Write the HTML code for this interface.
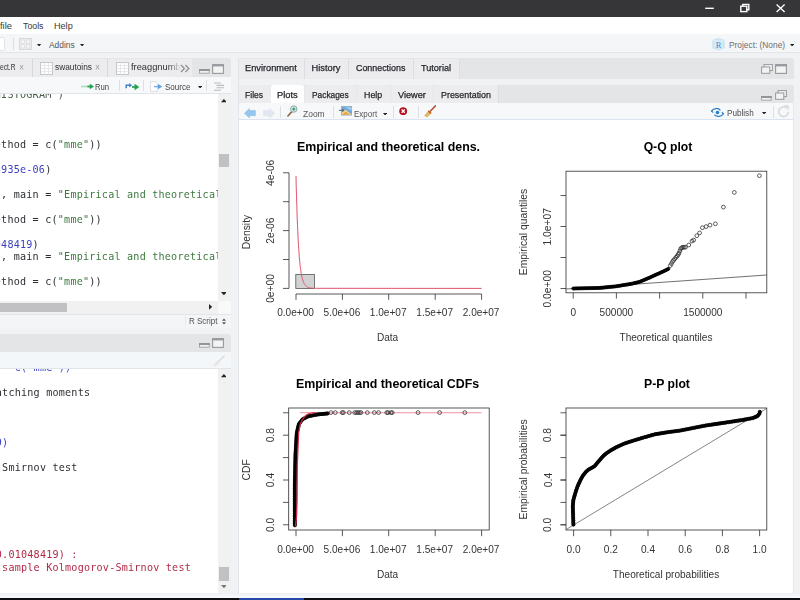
<!DOCTYPE html>
<html lang="en"><head><meta charset="utf-8"><title>RStudio</title>
<style>
html,body{margin:0;padding:0;}
body{width:800px;height:600px;overflow:hidden;position:relative;background:#f1f2f4;font-family:"Liberation Sans",sans-serif;}
#root{position:absolute;left:0;top:0;width:800px;height:600px;overflow:hidden;filter:blur(0.5px);}
#root div,#root span.t,#root svg{position:absolute;}
span.t{white-space:pre;transform-origin:0 50%;}
.ui{font-family:"Liberation Sans",sans-serif;}
.b{font-weight:bold;}
.mono{font-family:"DejaVu Sans Mono","Liberation Mono",monospace;}
svg text{font-family:"Liberation Sans",sans-serif;}
</style></head><body><div id="root">
<div style="left:0px;top:0px;width:800px;height:17px;background:#363537;"></div>
<div style="left:0px;top:17px;width:800px;height:17px;background:#ffffff;"></div>
<div style="left:0px;top:34px;width:800px;height:17.5px;background:#f5f6f8;"></div>
<div style="left:0px;top:51.5px;width:800px;height:1px;background:#e3e5e8;"></div>
<svg style="left:700px;top:0" width="100" height="17" viewBox="0 0 100 17">
<g stroke="#fff" stroke-width="1.4" fill="none">
<path d="M5.2 8.3H13.8"/>
<rect x="40.8" y="6.2" width="6" height="5.4"/><path d="M42.8 6.2V4.4h6v5.4H46.8"/>
<path d="M76.6 4.4l8 7.6M84.6 4.4l-8 7.6"/>
</g></svg>
<span class="t ui" style="left:-0.5px;top:19.84px;font-size:9.6px;line-height:11.52px;color:#3a3a3a;transform:scaleX(0.9778);">file</span>
<span class="t ui" style="left:22.5px;top:19.84px;font-size:9.6px;line-height:11.52px;color:#3a3a3a;transform:scaleX(0.9147);">Tools</span>
<span class="t ui" style="left:53.8px;top:19.84px;font-size:9.6px;line-height:11.52px;color:#3a3a3a;transform:scaleX(0.9471);">Help</span>
<div style="left:0px;top:36.5px;width:5px;height:14px;background:#ffffff;border:1px solid #e3e4e6;border-left:none;border-radius:0 2px 2px 0;box-sizing:border-box;"></div>
<div style="left:12.5px;top:38px;width:1px;height:12px;background:#dcdde0;"></div>
<svg style="left:19px;top:37.5px" width="13" height="12" viewBox="0 0 13 12">
<rect x="0.5" y="0.5" width="12" height="11" fill="#eeeeef" stroke="#d9d9db"/>
<g fill="#f8f8f9" stroke="#d4d4d7" stroke-width=".6"><rect x="2" y="2" width="3.6" height="3.2"/><rect x="7.3" y="2" width="3.6" height="3.2"/><rect x="2" y="6.8" width="3.6" height="3.2"/><rect x="7.3" y="6.8" width="3.6" height="3.2"/></g></svg>
<svg style="left:37.4px;top:43.6px" width="4.2" height="2.6" viewBox="0 0 4.2 2.6"><path d="M0 0H4.2L2.1 2.6Z" fill="#222"/></svg>
<span class="t ui" style="left:48.8px;top:39.36px;font-size:9.4px;line-height:11.28px;color:#555;transform:scaleX(0.8976);">Addins</span>
<svg style="left:80.4px;top:43.6px" width="4.2" height="2.6" viewBox="0 0 4.2 2.6"><path d="M0 0H4.2L2.1 2.6Z" fill="#222"/></svg>
<svg style="left:712px;top:38px" width="13" height="13" viewBox="0 0 13 13">
<path d="M.8 2.2L6.5 0.6L12.2 2.2V10L6.5 12L.8 10Z" fill="#d3e9f6" stroke="#b9d9ee" stroke-width=".6"/>
<path d="M.8 2.2L6.5 3.6L12.2 2.2M6.5 3.6V12" stroke="#e9f4fb" stroke-width=".6" fill="none"/>
<text x="6.6" y="9.6" font-size="8.4" text-anchor="middle" fill="#4a8fcb" style="font-family:'Liberation Serif',serif">R</text></svg>
<span class="t ui" style="left:728.8px;top:39.36px;font-size:9.4px;line-height:11.28px;color:#6e6e6e;transform:scaleX(0.8891);">Project: (None)</span>
<svg style="left:789.6999999999999px;top:43.6px" width="4.2" height="2.6" viewBox="0 0 4.2 2.6"><path d="M0 0H4.2L2.1 2.6Z" fill="#222"/></svg>
<div style="left:0px;top:58px;width:231px;height:19px;background:#e4e5e7;border-radius:0 3px 0 0;"></div>
<div style="left:0px;top:59px;width:31.5px;height:18px;background:#ececee;"></div>
<div style="left:31.5px;top:59px;width:1px;height:18px;background:#d6d8db;"></div>
<div style="left:32.5px;top:59px;width:74.5px;height:18px;background:#ececee;"></div>
<div style="left:107px;top:59px;width:1px;height:18px;background:#d6d8db;"></div>
<div style="left:108px;top:59px;width:84px;height:18px;background:#ececee;"></div>
<span class="t ui" style="left:-0.5px;top:62.48px;font-size:9.2px;line-height:11.04px;color:#303034;transform:scaleX(0.7218);">ect.R</span>
<span class="t ui" style="left:18.5px;top:62.20px;font-size:10px;line-height:12.0px;color:#9a9a9e;transform:scaleX(0.8562);">×</span>
<svg style="left:39.5px;top:61.5px" width="13" height="13" viewBox="0 0 13 13">
<rect x=".5" y=".5" width="12" height="12" fill="#fdfdfd" stroke="#c4c6ca"/>
<path d="M.5 3.5H12.5M.5 6.5H12.5M.5 9.5H12.5M4.5 .5V12.5M8.5 .5V12.5" stroke="#dfe0e3" stroke-width=".7"/></svg>
<span class="t ui" style="left:55px;top:62.48px;font-size:9.2px;line-height:11.04px;color:#303034;transform:scaleX(0.9044);">swautoins</span>
<span class="t ui" style="left:95px;top:62.20px;font-size:10px;line-height:12.0px;color:#9a9a9e;transform:scaleX(0.8562);">×</span>
<svg style="left:116px;top:61.5px" width="13" height="13" viewBox="0 0 13 13">
<rect x=".5" y=".5" width="12" height="12" fill="#fdfdfd" stroke="#c4c6ca"/>
<path d="M.5 3.5H12.5M.5 6.5H12.5M.5 9.5H12.5M4.5 .5V12.5M8.5 .5V12.5" stroke="#dfe0e3" stroke-width=".7"/></svg>
<span class="t ui" style="left:131.4px;top:62.48px;font-size:9.2px;line-height:11.04px;color:#303034;transform:scaleX(1.0102);">freaggnumb</span>
<div style="left:168px;top:59px;width:24px;height:18px;background:linear-gradient(90deg,rgba(236,236,238,0),rgba(236,236,238,1) 55%);"></div>
<svg style="left:180px;top:63.5px" width="10" height="9" viewBox="0 0 10 9"><path d="M1 1l3.4 3.5L1 8M5.4 1l3.4 3.5L5.4 8" fill="none" stroke="#8e9096" stroke-width="1.3"/></svg>
<svg style="left:198.5px;top:68.5px" width="11" height="5" viewBox="0 0 11 5"><rect x=".5" y=".8" width="9.8" height="3.4" fill="#f0f0f1" stroke="#a2a4a8" stroke-width=".9"/><path d="M0 1H10.8" stroke="#8d8f94" stroke-width="1.8"/></svg>
<svg style="left:212px;top:63.5px" width="12" height="10" viewBox="0 0 12 10"><rect x=".6" y=".6" width="10.8" height="8.8" fill="#f3f3f4" stroke="#97999e" stroke-width="1.1"/><path d="M.6 1.6H11.4" stroke="#97999e" stroke-width="1.6"/></svg>
<div style="left:0px;top:77px;width:231px;height:16px;background:#f6f8fa;"></div>
<div style="left:0px;top:93px;width:231px;height:1px;background:#e1e4e8;"></div>
<svg style="left:80.5px;top:82px" width="14" height="9" viewBox="0 0 14 9"><path d="M0 4.5H8" stroke="#a9dbb9" stroke-width="1.5"/><path d="M6.4 4.5H9.4" stroke="#2fa55a" stroke-width="1.9"/><path d="M8.8 1.7L13 4.5L8.8 7.3Z" fill="#22a04f"/></svg>
<span class="t ui" style="left:95.4px;top:80.96px;font-size:9.4px;line-height:11.28px;color:#444;transform:scaleX(0.8234);">Run</span>
<div style="left:118.5px;top:80px;width:1px;height:11px;background:#dcdfe3;"></div>
<svg style="left:124.5px;top:81.5px" width="15" height="10" viewBox="0 0 15 10"><path d="M1.2 6.2V3.2H5" stroke="#3f7fd0" stroke-width="1.5" fill="none"/><path d="M4.2 .9L7 3.2L4.2 5.5Z" fill="#3f7fd0"/><path d="M7 5H10" stroke="#2fa55a" stroke-width="1.8"/><path d="M9.5 1.8L14.3 5L9.5 8.2Z" fill="#22a04f"/></svg>
<div style="left:142.5px;top:80px;width:1px;height:11px;background:#dcdfe3;"></div>
<svg style="left:150px;top:80.5px" width="13" height="11" viewBox="0 0 13 11"><path d="M.6 .6H5.5L7.4 2.6V10.4H.6Z" fill="#fff" stroke="#d3d6db" stroke-width=".8"/><path d="M4 5.6H8.6" stroke="#7fb2e6" stroke-width="1.5"/><path d="M8 3L12.2 5.6L8 8.2Z" fill="#5f9fe0"/></svg>
<span class="t ui" style="left:165px;top:80.96px;font-size:9.4px;line-height:11.28px;color:#444;transform:scaleX(0.8561);">Source</span>
<svg style="left:198.3px;top:85.5px" width="4.2" height="2.6" viewBox="0 0 4.2 2.6"><path d="M0 0H4.2L2.1 2.6Z" fill="#222"/></svg>
<div style="left:206.4px;top:80px;width:1px;height:11px;background:#dcdfe3;"></div>
<svg style="left:213.5px;top:81.5px" width="10" height="9" viewBox="0 0 10 9"><path d="M0 1H7M2.5 3.4H10M2.5 5.8H10M0 8.2H7" stroke="#b7bac0" stroke-width="1.1"/></svg>
<div style="left:0px;top:94px;width:217.5px;height:207px;background:#ffffff;"></div>
<div style="left:0;top:94px;width:217.5px;height:207px;overflow:hidden;">
<div style="left:0;top:0px;width:217.5px;height:8px;overflow:hidden;"><span class="t mono" style="left:-5.2px;top:-5.4px;font-size:10.1px;letter-spacing:.22px;line-height:12.4px;color:#4a5f4c">HISTOGRAM"<span style="color:#4a4d52">)</span></span></div>
<span class="t mono" style="left:-5.199999999999999px;top:44.74px;font-size:10.1px;line-height:12.12px;color:#2c2f34;letter-spacing:0.219px;">e</span>
<span class="t mono" style="left:1.1000000000000005px;top:44.74px;font-size:10.1px;line-height:12.12px;color:#2c2f34;letter-spacing:0.219px;">thod = c(</span>
<span class="t mono" style="left:57.8px;top:44.74px;font-size:10.1px;line-height:12.12px;color:#3d7a40;letter-spacing:0.219px;">"mme"</span>
<span class="t mono" style="left:89.3px;top:44.74px;font-size:10.1px;line-height:12.12px;color:#2c2f34;letter-spacing:0.219px;">))</span>
<span class="t mono" style="left:-5.199999999999999px;top:69.64px;font-size:10.1px;line-height:12.12px;color:#3a3fc2;letter-spacing:0.219px;">6</span>
<span class="t mono" style="left:1.1000000000000005px;top:69.64px;font-size:10.1px;line-height:12.12px;color:#3a3fc2;letter-spacing:0.219px;">935e-06</span>
<span class="t mono" style="left:45.2px;top:69.64px;font-size:10.1px;line-height:12.12px;color:#2c2f34;letter-spacing:0.219px;">)</span>
<span class="t mono" style="left:1.1px;top:94.64px;font-size:10.1px;line-height:12.12px;color:#2c2f34;letter-spacing:0.219px;">, main = </span>
<span class="t mono" style="left:57.8px;top:94.64px;font-size:10.1px;line-height:12.12px;color:#3d7a40;letter-spacing:0.219px;">"Empirical and theoretical</span>
<span class="t mono" style="left:-5.199999999999999px;top:119.54px;font-size:10.1px;line-height:12.12px;color:#2c2f34;letter-spacing:0.219px;">e</span>
<span class="t mono" style="left:1.1000000000000005px;top:119.54px;font-size:10.1px;line-height:12.12px;color:#2c2f34;letter-spacing:0.219px;">thod = c(</span>
<span class="t mono" style="left:57.8px;top:119.54px;font-size:10.1px;line-height:12.12px;color:#3d7a40;letter-spacing:0.219px;">"mme"</span>
<span class="t mono" style="left:89.3px;top:119.54px;font-size:10.1px;line-height:12.12px;color:#2c2f34;letter-spacing:0.219px;">))</span>
<span class="t mono" style="left:-5.199999999999999px;top:144.54px;font-size:10.1px;line-height:12.12px;color:#3a3fc2;letter-spacing:0.219px;">0</span>
<span class="t mono" style="left:1.1000000000000005px;top:144.54px;font-size:10.1px;line-height:12.12px;color:#3a3fc2;letter-spacing:0.219px;">48419</span>
<span class="t mono" style="left:32.6px;top:144.54px;font-size:10.1px;line-height:12.12px;color:#2c2f34;letter-spacing:0.219px;">)</span>
<span class="t mono" style="left:1.1px;top:156.94px;font-size:10.1px;line-height:12.12px;color:#2c2f34;letter-spacing:0.219px;">, main = </span>
<span class="t mono" style="left:57.8px;top:156.94px;font-size:10.1px;line-height:12.12px;color:#3d7a40;letter-spacing:0.219px;">"Empirical and theoretical</span>
<span class="t mono" style="left:-5.199999999999999px;top:181.94px;font-size:10.1px;line-height:12.12px;color:#2c2f34;letter-spacing:0.219px;">e</span>
<span class="t mono" style="left:1.1000000000000005px;top:181.94px;font-size:10.1px;line-height:12.12px;color:#2c2f34;letter-spacing:0.219px;">thod = c(</span>
<span class="t mono" style="left:57.8px;top:181.94px;font-size:10.1px;line-height:12.12px;color:#3d7a40;letter-spacing:0.219px;">"mme"</span>
<span class="t mono" style="left:89.3px;top:181.94px;font-size:10.1px;line-height:12.12px;color:#2c2f34;letter-spacing:0.219px;">))</span>
</div>
<div style="left:217.5px;top:94px;width:13.5px;height:207px;background:#f1f1f2;"></div>
<svg style="left:220.7px;top:99.405px" width="5.8" height="3.19" viewBox="0 0 5.8 3.19"><path d="M0 3.19L2.9 0L5.8 3.19Z" fill="#222"/></svg>
<svg style="left:220.7px;top:292.405px" width="5.8" height="3.19" viewBox="0 0 5.8 3.19"><path d="M0 0H5.8L2.9 3.19Z" fill="#222"/></svg>
<div style="left:218.8px;top:154px;width:10px;height:12.8px;background:#c1c1c3;"></div>
<div style="left:0px;top:301px;width:231px;height:12.5px;background:#f1f1f2;"></div>
<div style="left:0px;top:302.6px;width:66.8px;height:9.4px;background:#c1c1c3;"></div>
<svg style="left:209.205px;top:304.1px" width="3.19" height="5.8" viewBox="0 0 3.19 5.8"><path d="M0 0L3.19 2.9L0 5.8Z" fill="#222"/></svg>
<div style="left:217.5px;top:301px;width:13.5px;height:12.5px;background:#f9f9fa;"></div>
<div style="left:0px;top:313.5px;width:231px;height:14px;background:#f4f5f7;"></div>
<div style="left:0px;top:313.5px;width:231px;height:1px;background:#e3e5e8;"></div>
<div style="left:184.5px;top:316px;width:1px;height:10px;background:#e6e8eb;"></div>
<span class="t ui" style="left:188.5px;top:315.64px;font-size:8.6px;line-height:10.32px;color:#505050;transform:scaleX(0.9319);">R Script</span>
<svg style="left:221.6px;top:317.6px" width="4" height="7" viewBox="0 0 5 8"><path d="M0 3L2.5 .4L5 3ZM0 5L2.5 7.6L5 5Z" fill="#555"/></svg>
<div style="left:0px;top:333.5px;width:231px;height:18.5px;background:#e4e5e7;border-radius:0 3px 0 0;"></div>
<svg style="left:198.5px;top:343px" width="11" height="5" viewBox="0 0 11 5"><rect x=".5" y=".8" width="9.8" height="3.4" fill="#f0f0f1" stroke="#a2a4a8" stroke-width=".9"/><path d="M0 1H10.8" stroke="#8d8f94" stroke-width="1.8"/></svg>
<svg style="left:212px;top:338.2px" width="12" height="10" viewBox="0 0 12 10"><rect x=".6" y=".6" width="10.8" height="8.8" fill="#f3f3f4" stroke="#97999e" stroke-width="1.1"/><path d="M.6 1.6H11.4" stroke="#97999e" stroke-width="1.6"/></svg>
<div style="left:0px;top:352px;width:231px;height:16px;background:#f4f7fa;"></div>
<div style="left:0px;top:368px;width:231px;height:1px;background:#e1e4e8;"></div>
<svg style="left:212px;top:354.5px" width="14" height="12" viewBox="0 0 14 12" opacity=".45"><path d="M12.5 .8L6.5 6.5" stroke="#c9b9a4" stroke-width="1.6"/><path d="M1 10.8L5.4 5.2L8.2 7.8L3.6 11.5Z" fill="#d8d3c7"/></svg>
<div style="left:0px;top:369px;width:217.5px;height:224px;background:#ffffff;"></div>
<div style="left:0;top:369px;width:217.5px;height:5px;overflow:hidden;"><span class="t mono" style="left:2.1px;top:-7.2px;font-size:10.1px;letter-spacing:.22px;line-height:12.4px;color:#3a3fc2">= c("mme"))</span></div>
<span class="t mono" style="left:-4.2px;top:386.84px;font-size:10.1px;line-height:12.12px;color:#2c2f34;letter-spacing:0.219px;">atching moments</span>
<span class="t mono" style="left:-4.2px;top:436.84px;font-size:10.1px;line-height:12.12px;color:#3a3fc2;letter-spacing:0.219px;">9</span>
<span class="t mono" style="left:2.0999999999999996px;top:436.84px;font-size:10.1px;line-height:12.12px;color:#3a3fc2;letter-spacing:0.219px;">)</span>
<span class="t mono" style="left:-4.2px;top:461.94px;font-size:10.1px;line-height:12.12px;color:#2c2f34;letter-spacing:0.219px;">-Smirnov test</span>
<span class="t mono" style="left:-4.2px;top:548.94px;font-size:10.1px;line-height:12.12px;color:#b02a48;letter-spacing:0.219px;">0.01048419) :</span>
<span class="t mono" style="left:-4.2px;top:561.74px;font-size:10.1px;line-height:12.12px;color:#b02a48;letter-spacing:0.219px;">-sample Kolmogorov-Smirnov test</span>
<div style="left:217.5px;top:369px;width:13.5px;height:224px;background:#f1f1f2;"></div>
<svg style="left:220.7px;top:374.405px" width="5.8" height="3.19" viewBox="0 0 5.8 3.19"><path d="M0 3.19L2.9 0L5.8 3.19Z" fill="#222"/></svg>
<svg style="left:220.7px;top:584.805px" width="5.8" height="3.19" viewBox="0 0 5.8 3.19"><path d="M0 0H5.8L2.9 3.19Z" fill="#777"/></svg>
<div style="left:218.8px;top:567px;width:10px;height:13.6px;background:#c1c1c3;"></div>
<div style="left:237.5px;top:58px;width:556px;height:21px;background:#e4e5e7;border-radius:3px 3px 0 0;"></div>
<div style="left:237.5px;top:59px;width:66.0px;height:20px;background:#ececee;"></div>
<div style="left:304.5px;top:59px;width:43.5px;height:20px;background:#ececee;"></div>
<div style="left:349px;top:59px;width:63.80000000000001px;height:20px;background:#ececee;"></div>
<div style="left:413.8px;top:59px;width:45.19999999999999px;height:20px;background:#ececee;"></div>
<div style="left:303.5px;top:59px;width:1px;height:20px;background:#dcdde0;"></div>
<div style="left:348px;top:59px;width:1px;height:20px;background:#dcdde0;"></div>
<div style="left:412.8px;top:59px;width:1px;height:20px;background:#dcdde0;"></div>
<div style="left:459px;top:59px;width:1px;height:20px;background:#dcdde0;"></div>
<span class="t ui" style="left:244.5px;top:62.52px;font-size:9.3px;line-height:11.16px;color:#1f2126;transform:scaleX(0.9921);-webkit-text-stroke:.25px #1f2126;">Environment</span>
<span class="t ui" style="left:311.5px;top:62.52px;font-size:9.3px;line-height:11.16px;color:#1f2126;-webkit-text-stroke:.25px #1f2126;">History</span>
<span class="t ui" style="left:356px;top:62.52px;font-size:9.3px;line-height:11.16px;color:#1f2126;transform:scaleX(0.9555);-webkit-text-stroke:.25px #1f2126;">Connections</span>
<span class="t ui" style="left:421px;top:62.52px;font-size:9.3px;line-height:11.16px;color:#1f2126;transform:scaleX(0.9783);-webkit-text-stroke:.25px #1f2126;">Tutorial</span>
<svg style="left:760.5px;top:63.5px" width="12" height="10" viewBox="0 0 12 10"><rect x="3" y=".6" width="8.4" height="6" fill="#f3f3f4" stroke="#97999e" stroke-width="1"/><rect x=".6" y="3" width="8.2" height="6.3" fill="#f3f3f4" stroke="#97999e" stroke-width="1"/></svg>
<svg style="left:774.5px;top:63.5px" width="12" height="10" viewBox="0 0 12 10"><rect x=".6" y=".6" width="10.8" height="8.8" fill="#f3f3f4" stroke="#97999e" stroke-width="1.1"/><path d="M.6 1.6H11.4" stroke="#97999e" stroke-width="1.6"/></svg>
<div style="left:237.5px;top:84.5px;width:556px;height:18.5px;background:#e4e5e7;border-radius:3px 3px 0 0;"></div>
<div style="left:237.5px;top:85px;width:33.5px;height:18px;background:#ececee;"></div>
<div style="left:271px;top:85px;width:33px;height:18px;background:#ffffff;border-radius:2px 2px 0 0;"></div>
<div style="left:304.5px;top:85px;width:51.5px;height:18px;background:#ececee;"></div>
<div style="left:357px;top:85px;width:32.5px;height:18px;background:#ececee;"></div>
<div style="left:390.5px;top:85px;width:42.5px;height:18px;background:#ececee;"></div>
<div style="left:434px;top:85px;width:64px;height:18px;background:#ececee;"></div>
<div style="left:304px;top:86px;width:1px;height:16px;background:#e6e7e9;"></div>
<div style="left:356px;top:86px;width:1px;height:16px;background:#e6e7e9;"></div>
<div style="left:389.5px;top:86px;width:1px;height:16px;background:#e6e7e9;"></div>
<div style="left:433px;top:86px;width:1px;height:16px;background:#e6e7e9;"></div>
<div style="left:498px;top:85px;width:1px;height:18px;background:#dcdde0;"></div>
<span class="t ui" style="left:244.5px;top:89.82px;font-size:9.3px;line-height:11.16px;color:#1f2126;transform:scaleX(0.9218);-webkit-text-stroke:.25px #1f2126;">Files</span>
<span class="t ui" style="left:277px;top:89.82px;font-size:9.3px;line-height:11.16px;color:#1f2126;transform:scaleX(1.0060);-webkit-text-stroke:.25px #1f2126;">Plots</span>
<span class="t ui" style="left:312.3px;top:89.82px;font-size:9.3px;line-height:11.16px;color:#1f2126;transform:scaleX(0.8986);-webkit-text-stroke:.25px #1f2126;">Packages</span>
<span class="t ui" style="left:364px;top:89.82px;font-size:9.3px;line-height:11.16px;color:#1f2126;transform:scaleX(0.9515);-webkit-text-stroke:.25px #1f2126;">Help</span>
<span class="t ui" style="left:397.8px;top:89.82px;font-size:9.3px;line-height:11.16px;color:#1f2126;transform:scaleX(0.9872);-webkit-text-stroke:.25px #1f2126;">Viewer</span>
<span class="t ui" style="left:441px;top:89.82px;font-size:9.3px;line-height:11.16px;color:#1f2126;transform:scaleX(0.9575);-webkit-text-stroke:.25px #1f2126;">Presentation</span>
<svg style="left:761px;top:96px" width="11" height="5" viewBox="0 0 11 5"><rect x=".5" y=".8" width="9.8" height="3.4" fill="#f0f0f1" stroke="#a2a4a8" stroke-width=".9"/><path d="M0 1H10.8" stroke="#8d8f94" stroke-width="1.8"/></svg>
<svg style="left:774.8px;top:89.5px" width="12" height="10" viewBox="0 0 12 10"><rect x="3" y=".6" width="8.4" height="6" fill="#f3f3f4" stroke="#97999e" stroke-width="1"/><rect x=".6" y="3" width="8.2" height="6.3" fill="#f3f3f4" stroke="#97999e" stroke-width="1"/></svg>
<div style="left:237.5px;top:103px;width:556px;height:16.2px;background:#f6f8fa;"></div>
<div style="left:237.5px;top:119.2px;width:556px;height:1px;background:#dbe4ee;"></div>
<svg style="left:243.5px;top:107.6px" width="12" height="10.4" viewBox="0 0 12 10.4"><path d="M.4 5.2L5.4 .5V2.6H11.4V7.8H5.4V9.9Z" fill="#93c7ec" stroke="#84bbe4" stroke-width=".5"/></svg>
<svg style="left:262.8px;top:107.6px" width="12" height="10.4" viewBox="0 0 12 10.4"><path d="M11.6 5.2L6.6 .5V2.6H.6V7.8H6.6V9.9Z" fill="#e0e7ef" stroke="#dae1ea" stroke-width=".5"/></svg>
<div style="left:279.7px;top:106px;width:1px;height:12px;background:#dcdfe3;"></div>
<svg style="left:287px;top:105.4px" width="11" height="11.9" viewBox="0 0 12 13"><path d="M5.4 7.2L1 12" stroke="#8a6a4a" stroke-width="1.8" stroke-linecap="round"/><circle cx="7.4" cy="4.4" r="3.5" fill="#d8f1e2" stroke="#8c9aa6" stroke-width="1"/><path d="M7.4 2.6V6.2M5.6 4.4H9.2" stroke="#1f9b4e" stroke-width="1.3"/></svg>
<span class="t ui" style="left:302.5px;top:107.96px;font-size:9.4px;line-height:11.28px;color:#555;transform:scaleX(0.9031);">Zoom</span>
<div style="left:332.6px;top:106px;width:1px;height:12px;background:#dcdfe3;"></div>
<svg style="left:338.6px;top:106.4px" width="13.6" height="10" viewBox="0 0 13.6 10"><rect x="2.6" y=".5" width="10.5" height="8.6" fill="#6fa8dc" stroke="#8fa5ba" stroke-width=".7"/><path d="M3 8.8V5.2L6.4 3.4L9.4 6L13 8.8Z" fill="#f1d58a"/><path d="M3 8.8L6.8 5.6L10.4 8.8Z" fill="#e7a34a"/><path d="M6 1.2L12.6 1.2L12.6 4.8Z" fill="#a9cdf0"/><path d="M0 4.4H3.6" stroke="#5b6b7c" stroke-width="1.1"/><path d="M3.2 2.6L5.6 4.4L3.2 6.2Z" fill="#5b6b7c"/></svg>
<span class="t ui" style="left:354.3px;top:107.96px;font-size:9.4px;line-height:11.28px;color:#555;transform:scaleX(0.8539);">Export</span>
<svg style="left:382.9px;top:112.5px" width="4.2" height="2.6" viewBox="0 0 4.2 2.6"><path d="M0 0H4.2L2.1 2.6Z" fill="#222"/></svg>
<div style="left:393.4px;top:106px;width:1px;height:12px;background:#dcdfe3;"></div>
<svg style="left:399.1px;top:107px" width="8.4" height="8.4" viewBox="0 0 9 9"><circle cx="4.5" cy="4.5" r="4.2" fill="#b5121f"/><path d="M2.8 2.8L6.2 6.2M6.2 2.8L2.8 6.2" stroke="#fff" stroke-width="1.5"/></svg>
<div style="left:417.7px;top:106px;width:1px;height:12px;background:#dcdfe3;"></div>
<svg style="left:424px;top:105.2px" width="12.4" height="12.6" viewBox="0 0 13 13"><path d="M12 .8L6.6 6.4" stroke="#b5543a" stroke-width="1.7" stroke-linecap="round"/><path d="M.8 11.2L5 5.6L7.8 8.2L3.4 12.4Z" fill="#e3b95b" stroke="#c79a3e" stroke-width=".5"/><path d="M4.6 6.2L7.2 8.6" stroke="#c0392b" stroke-width="1.1"/></svg>
<svg style="left:710.5px;top:107px" width="13" height="11" viewBox="0 0 13 11"><path d="M.4 4.6C2 1 7.2 .4 9.4 3.4" fill="none" stroke="#2a80c8" stroke-width="1.3"/><path d="M12.6 6.2C11 9.8 5.8 10.6 3.4 7.6" fill="none" stroke="#2a80c8" stroke-width="1.3"/><path d="M0 3.4L2.2 5.6M13 7.4L10.8 5.2" stroke="#2a80c8" stroke-width="1.1"/><circle cx="6.5" cy="5.5" r="1.8" fill="#2a80c8"/></svg>
<span class="t ui" style="left:726.9px;top:106.96px;font-size:9.4px;line-height:11.28px;color:#4c4c4c;transform:scaleX(0.8692);">Publish</span>
<svg style="left:761.6px;top:111.5px" width="4.2" height="2.6" viewBox="0 0 4.2 2.6"><path d="M0 0H4.2L2.1 2.6Z" fill="#222"/></svg>
<div style="left:772.5px;top:105.5px;width:1px;height:12.5px;background:#dcdfe3;"></div>
<svg style="left:776.6px;top:104.8px" width="13" height="13" viewBox="0 0 12 12"><path d="M10.4 6.2A4.4 4.4 0 1 1 8.2 2.4" fill="none" stroke="#d9dce0" stroke-width="1.7"/><path d="M6.2 .2H10.8V4.8Z" fill="#d9dce0"/></svg>
<div style="left:237.5px;top:120.2px;width:556px;height:472.8px;background:#ffffff;"></div>
<div style="left:237.5px;top:58px;width:1px;height:535px;background:#e2e4e7;"></div>
<div style="left:792.5px;top:85px;width:1px;height:508px;background:#e6e8eb;"></div>
<div style="left:0px;top:593px;width:800px;height:5.4px;background:linear-gradient(180deg,#eceff5,#fafbfd);"></div>
<div style="left:0px;top:598.4px;width:800px;height:1.6px;background:#0d0d10;"></div>
<div style="left:238.7px;top:598.4px;width:65px;height:1.6px;background:#2646a8;"></div>
<svg style="left:238px;top:121px" width="555" height="472" viewBox="238 121 555 472"><text x="388.5" y="151.3" font-size="12.4" text-anchor="middle" fill="#000000" font-weight="bold">Empirical and theoretical dens.</text>
<path d="M289 172.8L289 288.4" stroke="#2e2e2e" stroke-width="0.8" fill="none"/>
<path d="M289 172.8L283 172.8" stroke="#2e2e2e" stroke-width="0.8" fill="none"/>
<path d="M289 201.70000000000002L283 201.70000000000002" stroke="#2e2e2e" stroke-width="0.8" fill="none"/>
<path d="M289 230.60000000000002L283 230.60000000000002" stroke="#2e2e2e" stroke-width="0.8" fill="none"/>
<path d="M289 259.5L283 259.5" stroke="#2e2e2e" stroke-width="0.8" fill="none"/>
<path d="M289 288.4L283 288.4" stroke="#2e2e2e" stroke-width="0.8" fill="none"/>
<text x="274.2" y="172.8" font-size="10.3" text-anchor="middle" fill="#343434" transform="rotate(-90 274.2 172.8)">4e-06</text>
<text x="274.2" y="230.6" font-size="10.3" text-anchor="middle" fill="#343434" transform="rotate(-90 274.2 230.6)">2e-06</text>
<text x="274.2" y="288.4" font-size="10.3" text-anchor="middle" fill="#343434" transform="rotate(-90 274.2 288.4)">0e+00</text>
<text x="250" y="232" font-size="10.3" text-anchor="middle" fill="#343434" transform="rotate(-90 250 232)">Density</text>
<path d="M296 294L481.6 294" stroke="#2e2e2e" stroke-width="0.8" fill="none"/>
<path d="M296 294L296 299.8" stroke="#2e2e2e" stroke-width="0.8" fill="none"/>
<path d="M342.4 294L342.4 299.8" stroke="#2e2e2e" stroke-width="0.8" fill="none"/>
<path d="M388.7 294L388.7 299.8" stroke="#2e2e2e" stroke-width="0.8" fill="none"/>
<path d="M435.2 294L435.2 299.8" stroke="#2e2e2e" stroke-width="0.8" fill="none"/>
<path d="M481.6 294L481.6 299.8" stroke="#2e2e2e" stroke-width="0.8" fill="none"/>
<text x="295.5" y="316" font-size="10.08" text-anchor="middle" fill="#343434">0.0e+00</text>
<text x="341.9" y="316" font-size="10.08" text-anchor="middle" fill="#343434">5.0e+06</text>
<text x="388.2" y="316" font-size="10.08" text-anchor="middle" fill="#343434">1.0e+07</text>
<text x="434.7" y="316" font-size="10.08" text-anchor="middle" fill="#343434">1.5e+07</text>
<text x="481.1" y="316" font-size="10.08" text-anchor="middle" fill="#343434">2.0e+07</text>
<text x="387.6" y="341.2" font-size="10.08" text-anchor="middle" fill="#343434">Data</text>
<rect x="295.8" y="274.4" width="18.6" height="14" fill="#d2d2d4" stroke="#555" stroke-width=".8"/>
<path d="M296.0 176.0L296.2 186.3L296.5 195.7L296.8 204.2L297.0 211.9L297.2 218.9L297.5 225.3L297.8 231.1L298.0 236.3L298.2 241.1L298.5 245.4L298.8 249.4L299.0 252.9L299.2 256.2L299.5 259.1L299.8 261.8L300.0 264.3L300.2 266.5L300.5 268.5L300.8 270.3L301.0 272.0L301.2 273.5L301.5 274.8L301.8 276.1L302.0 277.2L302.2 278.2L302.5 279.2L302.8 280.0L303.0 280.8L303.2 281.5L303.5 282.1L303.8 282.7L304.0 283.2L304.2 283.7L304.5 284.1L304.8 284.5L305.0 284.9L305.2 285.2L305.5 285.5L305.8 285.8L306.0 286.0L306.2 286.2L306.5 286.4L306.8 286.6L307.0 286.8L307.2 286.9L307.5 287.1L307.8 287.2L308.0 287.3L308.2 287.4L308.5 287.5L308.8 287.6L309.0 287.6L309.2 287.7L309.5 287.8L309.8 287.8L310.0 287.9L310.2 287.9L310.5 288.0L310.8 288.0L311.0 288.0L311.2 288.1L311.5 288.1L311.8 288.1L312.0 288.2L312.2 288.2L312.5 288.2L312.8 288.2L313.0 288.2L313.2 288.3L313.5 288.3L313.8 288.3L314.0 288.3L314.2 288.3L314.5 288.3L314.8 288.3L315.0 288.3L315.2 288.3L315.5 288.3L315.8 288.3L481.6 288.4" stroke="#df536b" stroke-width="1" fill="none" />
<text x="668" y="151.3" font-size="12.2" text-anchor="middle" fill="#000000" font-weight="bold">Q-Q plot</text>
<rect x="566" y="171.2" width="200.8" height="121.6" fill="none" stroke="#2e2e2e" stroke-width=".8"/>
<path d="M573.2 292.8L573.2 298.6" stroke="#2e2e2e" stroke-width="0.8" fill="none"/>
<path d="M616.4 292.8L616.4 298.6" stroke="#2e2e2e" stroke-width="0.8" fill="none"/>
<path d="M659.6 292.8L659.6 298.6" stroke="#2e2e2e" stroke-width="0.8" fill="none"/>
<path d="M702.8 292.8L702.8 298.6" stroke="#2e2e2e" stroke-width="0.8" fill="none"/>
<path d="M746 292.8L746 298.6" stroke="#2e2e2e" stroke-width="0.8" fill="none"/>
<text x="573.2" y="316" font-size="10.08" text-anchor="middle" fill="#343434">0</text>
<text x="616.4" y="316" font-size="10.08" text-anchor="middle" fill="#343434">500000</text>
<text x="702.8" y="316" font-size="10.08" text-anchor="middle" fill="#343434">1500000</text>
<text x="666" y="341" font-size="10.08" text-anchor="middle" fill="#343434">Theoretical quantiles</text>
<path d="M566 288.5L560.5 288.5" stroke="#2e2e2e" stroke-width="0.8" fill="none"/>
<path d="M566 257.5L560.5 257.5" stroke="#2e2e2e" stroke-width="0.8" fill="none"/>
<path d="M566 226.5L560.5 226.5" stroke="#2e2e2e" stroke-width="0.8" fill="none"/>
<path d="M566 195.5L560.5 195.5" stroke="#2e2e2e" stroke-width="0.8" fill="none"/>
<text x="551.5" y="288.8" font-size="10.3" text-anchor="middle" fill="#343434" transform="rotate(-90 551.5 288.8)">0.0e+00</text>
<text x="551.5" y="226.8" font-size="10.3" text-anchor="middle" fill="#343434" transform="rotate(-90 551.5 226.8)">1.0e+07</text>
<text x="526.8" y="232" font-size="10.3" text-anchor="middle" fill="#343434" transform="rotate(-90 526.8 232)">Empirical quantiles</text>
<path d="M566 289L766.8 275" stroke="#333" stroke-width="0.7" fill="none"/>
<path d="M573.2 288.5L600.0 287.9L616.4 286.3L632.0 283.7L640.0 281.7L648.0 278.3L656.0 274.7L664.0 271.1L668.4 268.9" stroke="#0c0c0c" stroke-width="3.0" fill="none" stroke-linecap="round" stroke-linejoin="round"/>
<circle cx="573.2" cy="288.5" r="1.5" stroke="#000" stroke-width="0.8" fill="none"/>
<circle cx="574.6" cy="288.5" r="1.5" stroke="#000" stroke-width="0.8" fill="none"/>
<circle cx="576.1" cy="288.4" r="1.5" stroke="#000" stroke-width="0.8" fill="none"/>
<circle cx="577.5" cy="288.4" r="1.5" stroke="#000" stroke-width="0.8" fill="none"/>
<circle cx="578.9" cy="288.4" r="1.5" stroke="#000" stroke-width="0.8" fill="none"/>
<circle cx="580.3" cy="288.3" r="1.5" stroke="#000" stroke-width="0.8" fill="none"/>
<circle cx="581.8" cy="288.3" r="1.5" stroke="#000" stroke-width="0.8" fill="none"/>
<circle cx="583.2" cy="288.3" r="1.5" stroke="#000" stroke-width="0.8" fill="none"/>
<circle cx="584.6" cy="288.2" r="1.5" stroke="#000" stroke-width="0.8" fill="none"/>
<circle cx="586.0" cy="288.2" r="1.5" stroke="#000" stroke-width="0.8" fill="none"/>
<circle cx="587.5" cy="288.2" r="1.5" stroke="#000" stroke-width="0.8" fill="none"/>
<circle cx="588.9" cy="288.1" r="1.5" stroke="#000" stroke-width="0.8" fill="none"/>
<circle cx="590.3" cy="288.1" r="1.5" stroke="#000" stroke-width="0.8" fill="none"/>
<circle cx="591.8" cy="288.1" r="1.5" stroke="#000" stroke-width="0.8" fill="none"/>
<circle cx="593.2" cy="288.1" r="1.5" stroke="#000" stroke-width="0.8" fill="none"/>
<circle cx="594.6" cy="288.0" r="1.5" stroke="#000" stroke-width="0.8" fill="none"/>
<circle cx="596.0" cy="288.0" r="1.5" stroke="#000" stroke-width="0.8" fill="none"/>
<circle cx="597.5" cy="288.0" r="1.5" stroke="#000" stroke-width="0.8" fill="none"/>
<circle cx="598.9" cy="287.9" r="1.5" stroke="#000" stroke-width="0.8" fill="none"/>
<circle cx="600.3" cy="287.9" r="1.5" stroke="#000" stroke-width="0.8" fill="none"/>
<circle cx="601.7" cy="287.7" r="1.5" stroke="#000" stroke-width="0.8" fill="none"/>
<circle cx="603.2" cy="287.6" r="1.5" stroke="#000" stroke-width="0.8" fill="none"/>
<circle cx="604.6" cy="287.5" r="1.5" stroke="#000" stroke-width="0.8" fill="none"/>
<circle cx="606.0" cy="287.3" r="1.5" stroke="#000" stroke-width="0.8" fill="none"/>
<circle cx="607.4" cy="287.2" r="1.5" stroke="#000" stroke-width="0.8" fill="none"/>
<circle cx="608.8" cy="287.0" r="1.5" stroke="#000" stroke-width="0.8" fill="none"/>
<circle cx="610.3" cy="286.9" r="1.5" stroke="#000" stroke-width="0.8" fill="none"/>
<circle cx="611.7" cy="286.8" r="1.5" stroke="#000" stroke-width="0.8" fill="none"/>
<circle cx="613.1" cy="286.6" r="1.5" stroke="#000" stroke-width="0.8" fill="none"/>
<circle cx="614.5" cy="286.5" r="1.5" stroke="#000" stroke-width="0.8" fill="none"/>
<circle cx="615.9" cy="286.3" r="1.5" stroke="#000" stroke-width="0.8" fill="none"/>
<circle cx="617.4" cy="286.1" r="1.5" stroke="#000" stroke-width="0.8" fill="none"/>
<circle cx="618.8" cy="285.9" r="1.5" stroke="#000" stroke-width="0.8" fill="none"/>
<circle cx="620.2" cy="285.7" r="1.5" stroke="#000" stroke-width="0.8" fill="none"/>
<circle cx="621.6" cy="285.4" r="1.5" stroke="#000" stroke-width="0.8" fill="none"/>
<circle cx="623.0" cy="285.2" r="1.5" stroke="#000" stroke-width="0.8" fill="none"/>
<circle cx="624.4" cy="285.0" r="1.5" stroke="#000" stroke-width="0.8" fill="none"/>
<circle cx="625.8" cy="284.7" r="1.5" stroke="#000" stroke-width="0.8" fill="none"/>
<circle cx="627.2" cy="284.5" r="1.5" stroke="#000" stroke-width="0.8" fill="none"/>
<circle cx="628.6" cy="284.3" r="1.5" stroke="#000" stroke-width="0.8" fill="none"/>
<circle cx="630.0" cy="284.0" r="1.5" stroke="#000" stroke-width="0.8" fill="none"/>
<circle cx="631.4" cy="283.8" r="1.5" stroke="#000" stroke-width="0.8" fill="none"/>
<circle cx="632.8" cy="283.5" r="1.5" stroke="#000" stroke-width="0.8" fill="none"/>
<circle cx="634.2" cy="283.1" r="1.5" stroke="#000" stroke-width="0.8" fill="none"/>
<circle cx="635.6" cy="282.8" r="1.5" stroke="#000" stroke-width="0.8" fill="none"/>
<circle cx="637.0" cy="282.5" r="1.5" stroke="#000" stroke-width="0.8" fill="none"/>
<circle cx="638.4" cy="282.1" r="1.5" stroke="#000" stroke-width="0.8" fill="none"/>
<circle cx="639.8" cy="281.8" r="1.5" stroke="#000" stroke-width="0.8" fill="none"/>
<circle cx="641.1" cy="281.2" r="1.5" stroke="#000" stroke-width="0.8" fill="none"/>
<circle cx="642.4" cy="280.7" r="1.5" stroke="#000" stroke-width="0.8" fill="none"/>
<circle cx="643.7" cy="280.1" r="1.5" stroke="#000" stroke-width="0.8" fill="none"/>
<circle cx="645.0" cy="279.6" r="1.5" stroke="#000" stroke-width="0.8" fill="none"/>
<circle cx="646.3" cy="279.0" r="1.5" stroke="#000" stroke-width="0.8" fill="none"/>
<circle cx="647.7" cy="278.4" r="1.5" stroke="#000" stroke-width="0.8" fill="none"/>
<circle cx="649.0" cy="277.9" r="1.5" stroke="#000" stroke-width="0.8" fill="none"/>
<circle cx="650.3" cy="277.3" r="1.5" stroke="#000" stroke-width="0.8" fill="none"/>
<circle cx="651.6" cy="276.7" r="1.5" stroke="#000" stroke-width="0.8" fill="none"/>
<circle cx="652.9" cy="276.1" r="1.5" stroke="#000" stroke-width="0.8" fill="none"/>
<circle cx="654.2" cy="275.5" r="1.5" stroke="#000" stroke-width="0.8" fill="none"/>
<circle cx="655.5" cy="274.9" r="1.5" stroke="#000" stroke-width="0.8" fill="none"/>
<circle cx="656.8" cy="274.4" r="1.5" stroke="#000" stroke-width="0.8" fill="none"/>
<circle cx="658.1" cy="273.8" r="1.5" stroke="#000" stroke-width="0.8" fill="none"/>
<circle cx="659.4" cy="273.2" r="1.5" stroke="#000" stroke-width="0.8" fill="none"/>
<circle cx="660.7" cy="272.6" r="1.5" stroke="#000" stroke-width="0.8" fill="none"/>
<circle cx="662.0" cy="272.0" r="1.5" stroke="#000" stroke-width="0.8" fill="none"/>
<circle cx="663.3" cy="271.4" r="1.5" stroke="#000" stroke-width="0.8" fill="none"/>
<circle cx="664.6" cy="270.8" r="1.5" stroke="#000" stroke-width="0.8" fill="none"/>
<circle cx="665.8" cy="270.2" r="1.5" stroke="#000" stroke-width="0.8" fill="none"/>
<circle cx="667.1" cy="269.5" r="1.5" stroke="#000" stroke-width="0.8" fill="none"/>
<circle cx="668.4" cy="268.9" r="1.5" stroke="#000" stroke-width="0.8" fill="none"/>
<circle cx="670.3" cy="265.6" r="1.9" stroke="#2a2a2a" stroke-width="0.75" fill="none"/>
<circle cx="671.4" cy="263.7" r="1.9" stroke="#2a2a2a" stroke-width="0.75" fill="none"/>
<circle cx="672.5" cy="261.7" r="1.9" stroke="#2a2a2a" stroke-width="0.75" fill="none"/>
<circle cx="673.6" cy="260.3" r="1.9" stroke="#2a2a2a" stroke-width="0.75" fill="none"/>
<circle cx="674.7" cy="258.9" r="1.9" stroke="#2a2a2a" stroke-width="0.75" fill="none"/>
<circle cx="676.0" cy="257.3" r="1.9" stroke="#2a2a2a" stroke-width="0.75" fill="none"/>
<circle cx="677.3" cy="255.9" r="1.9" stroke="#2a2a2a" stroke-width="0.75" fill="none"/>
<circle cx="678.2" cy="254.5" r="1.9" stroke="#2a2a2a" stroke-width="0.75" fill="none"/>
<circle cx="679.0" cy="253.1" r="1.9" stroke="#2a2a2a" stroke-width="0.75" fill="none"/>
<circle cx="679.9" cy="250.9" r="1.9" stroke="#2a2a2a" stroke-width="0.75" fill="none"/>
<circle cx="680.7" cy="248.7" r="1.9" stroke="#2a2a2a" stroke-width="0.75" fill="none"/>
<circle cx="681.8" cy="247.8" r="1.9" stroke="#2a2a2a" stroke-width="0.75" fill="none"/>
<circle cx="682.9" cy="247.2" r="1.9" stroke="#2a2a2a" stroke-width="0.75" fill="none"/>
<circle cx="684.2" cy="247.2" r="1.9" stroke="#2a2a2a" stroke-width="0.75" fill="none"/>
<circle cx="685.5" cy="247.2" r="1.9" stroke="#2a2a2a" stroke-width="0.75" fill="none"/>
<circle cx="688.8" cy="245.0" r="1.9" stroke="#2a2a2a" stroke-width="0.75" fill="none"/>
<circle cx="692.0" cy="241.1" r="1.9" stroke="#2a2a2a" stroke-width="0.75" fill="none"/>
<circle cx="693.7" cy="240.1" r="1.9" stroke="#2a2a2a" stroke-width="0.75" fill="none"/>
<circle cx="696.8" cy="235.7" r="1.9" stroke="#2a2a2a" stroke-width="0.75" fill="none"/>
<circle cx="699.6" cy="232.9" r="1.9" stroke="#2a2a2a" stroke-width="0.75" fill="none"/>
<circle cx="702.4" cy="227.7" r="1.9" stroke="#2a2a2a" stroke-width="0.75" fill="none"/>
<circle cx="706.1" cy="226.6" r="1.9" stroke="#2a2a2a" stroke-width="0.75" fill="none"/>
<circle cx="710.0" cy="225.1" r="1.9" stroke="#2a2a2a" stroke-width="0.75" fill="none"/>
<circle cx="715.4" cy="223.8" r="1.9" stroke="#2a2a2a" stroke-width="0.75" fill="none"/>
<circle cx="723.4" cy="207.1" r="1.9" stroke="#2a2a2a" stroke-width="0.75" fill="none"/>
<circle cx="734.3" cy="192.4" r="1.9" stroke="#2a2a2a" stroke-width="0.75" fill="none"/>
<circle cx="759.4" cy="175.7" r="1.9" stroke="#2a2a2a" stroke-width="0.75" fill="none"/>
<text x="387.6" y="388.3" font-size="12.4" text-anchor="middle" fill="#000000" font-weight="bold">Empirical and theoretical CDFs</text>
<rect x="288.7" y="408" width="200.5" height="122" fill="none" stroke="#2e2e2e" stroke-width=".8"/>
<path d="M296 530L296 536.2" stroke="#2e2e2e" stroke-width="0.8" fill="none"/>
<path d="M342.4 530L342.4 536.2" stroke="#2e2e2e" stroke-width="0.8" fill="none"/>
<path d="M388.7 530L388.7 536.2" stroke="#2e2e2e" stroke-width="0.8" fill="none"/>
<path d="M435.2 530L435.2 536.2" stroke="#2e2e2e" stroke-width="0.8" fill="none"/>
<path d="M481.6 530L481.6 536.2" stroke="#2e2e2e" stroke-width="0.8" fill="none"/>
<text x="295.5" y="553" font-size="10.08" text-anchor="middle" fill="#343434">0.0e+00</text>
<text x="341.9" y="553" font-size="10.08" text-anchor="middle" fill="#343434">5.0e+06</text>
<text x="388.2" y="553" font-size="10.08" text-anchor="middle" fill="#343434">1.0e+07</text>
<text x="434.7" y="553" font-size="10.08" text-anchor="middle" fill="#343434">1.5e+07</text>
<text x="481.1" y="553" font-size="10.08" text-anchor="middle" fill="#343434">2.0e+07</text>
<text x="387.6" y="578.4" font-size="10.08" text-anchor="middle" fill="#343434">Data</text>
<path d="M288.7 524.8L283 524.8" stroke="#2e2e2e" stroke-width="0.8" fill="none"/>
<path d="M288.7 502.4L283 502.4" stroke="#2e2e2e" stroke-width="0.8" fill="none"/>
<path d="M288.7 479.99999999999994L283 479.99999999999994" stroke="#2e2e2e" stroke-width="0.8" fill="none"/>
<path d="M288.7 457.59999999999997L283 457.59999999999997" stroke="#2e2e2e" stroke-width="0.8" fill="none"/>
<path d="M288.7 435.19999999999993L283 435.19999999999993" stroke="#2e2e2e" stroke-width="0.8" fill="none"/>
<path d="M288.7 412.79999999999995L283 412.79999999999995" stroke="#2e2e2e" stroke-width="0.8" fill="none"/>
<text x="274.2" y="524.8" font-size="10.3" text-anchor="middle" fill="#343434" transform="rotate(-90 274.2 524.8)">0.0</text>
<text x="274.2" y="480" font-size="10.3" text-anchor="middle" fill="#343434" transform="rotate(-90 274.2 480)">0.4</text>
<text x="274.2" y="435.2" font-size="10.3" text-anchor="middle" fill="#343434" transform="rotate(-90 274.2 435.2)">0.8</text>
<text x="250" y="469.8" font-size="10.3" text-anchor="middle" fill="#343434" transform="rotate(-90 250 469.8)">CDF</text>
<path d="M300.0 412.7L481.6 412.7" stroke="#f090a4" stroke-width="1.1" fill="none" />
<path d="M294.9 525.3L294.8 486.0L295.5 455.0L296.8 433.0L298.9 424.0L302.6 419.2L308.2 416.3L316.8 414.6L327.7 413.4" stroke="#0c0c0c" stroke-width="3.5" fill="none" stroke-linecap="round" stroke-linejoin="round"/>
<circle cx="294.9" cy="525.3" r="1.55" stroke="#000" stroke-width="0.8" fill="none"/>
<circle cx="294.8" cy="523.6" r="1.55" stroke="#000" stroke-width="0.8" fill="none"/>
<circle cx="294.8" cy="521.9" r="1.55" stroke="#000" stroke-width="0.8" fill="none"/>
<circle cx="294.8" cy="520.2" r="1.55" stroke="#000" stroke-width="0.8" fill="none"/>
<circle cx="294.8" cy="518.5" r="1.55" stroke="#000" stroke-width="0.8" fill="none"/>
<circle cx="294.8" cy="516.8" r="1.55" stroke="#000" stroke-width="0.8" fill="none"/>
<circle cx="294.8" cy="515.1" r="1.55" stroke="#000" stroke-width="0.8" fill="none"/>
<circle cx="294.8" cy="513.5" r="1.55" stroke="#000" stroke-width="0.8" fill="none"/>
<circle cx="294.8" cy="511.8" r="1.55" stroke="#000" stroke-width="0.8" fill="none"/>
<circle cx="294.8" cy="510.1" r="1.55" stroke="#000" stroke-width="0.8" fill="none"/>
<circle cx="294.8" cy="508.4" r="1.55" stroke="#000" stroke-width="0.8" fill="none"/>
<circle cx="294.8" cy="506.7" r="1.55" stroke="#000" stroke-width="0.8" fill="none"/>
<circle cx="294.8" cy="505.0" r="1.55" stroke="#000" stroke-width="0.8" fill="none"/>
<circle cx="294.8" cy="503.3" r="1.55" stroke="#000" stroke-width="0.8" fill="none"/>
<circle cx="294.8" cy="501.6" r="1.55" stroke="#000" stroke-width="0.8" fill="none"/>
<circle cx="294.8" cy="499.9" r="1.55" stroke="#000" stroke-width="0.8" fill="none"/>
<circle cx="294.8" cy="498.2" r="1.55" stroke="#000" stroke-width="0.8" fill="none"/>
<circle cx="294.8" cy="496.5" r="1.55" stroke="#000" stroke-width="0.8" fill="none"/>
<circle cx="294.8" cy="494.8" r="1.55" stroke="#000" stroke-width="0.8" fill="none"/>
<circle cx="294.8" cy="493.1" r="1.55" stroke="#000" stroke-width="0.8" fill="none"/>
<circle cx="294.8" cy="491.5" r="1.55" stroke="#000" stroke-width="0.8" fill="none"/>
<circle cx="294.8" cy="489.8" r="1.55" stroke="#000" stroke-width="0.8" fill="none"/>
<circle cx="294.8" cy="488.1" r="1.55" stroke="#000" stroke-width="0.8" fill="none"/>
<circle cx="294.8" cy="486.4" r="1.55" stroke="#000" stroke-width="0.8" fill="none"/>
<circle cx="294.8" cy="484.7" r="1.55" stroke="#000" stroke-width="0.8" fill="none"/>
<circle cx="294.9" cy="483.0" r="1.55" stroke="#000" stroke-width="0.8" fill="none"/>
<circle cx="294.9" cy="481.3" r="1.55" stroke="#000" stroke-width="0.8" fill="none"/>
<circle cx="294.9" cy="479.6" r="1.55" stroke="#000" stroke-width="0.8" fill="none"/>
<circle cx="295.0" cy="477.9" r="1.55" stroke="#000" stroke-width="0.8" fill="none"/>
<circle cx="295.0" cy="476.2" r="1.55" stroke="#000" stroke-width="0.8" fill="none"/>
<circle cx="295.1" cy="474.5" r="1.55" stroke="#000" stroke-width="0.8" fill="none"/>
<circle cx="295.1" cy="472.8" r="1.55" stroke="#000" stroke-width="0.8" fill="none"/>
<circle cx="295.1" cy="471.2" r="1.55" stroke="#000" stroke-width="0.8" fill="none"/>
<circle cx="295.2" cy="469.5" r="1.55" stroke="#000" stroke-width="0.8" fill="none"/>
<circle cx="295.2" cy="467.8" r="1.55" stroke="#000" stroke-width="0.8" fill="none"/>
<circle cx="295.2" cy="466.1" r="1.55" stroke="#000" stroke-width="0.8" fill="none"/>
<circle cx="295.3" cy="464.4" r="1.55" stroke="#000" stroke-width="0.8" fill="none"/>
<circle cx="295.3" cy="462.7" r="1.55" stroke="#000" stroke-width="0.8" fill="none"/>
<circle cx="295.4" cy="461.0" r="1.55" stroke="#000" stroke-width="0.8" fill="none"/>
<circle cx="295.4" cy="459.3" r="1.55" stroke="#000" stroke-width="0.8" fill="none"/>
<circle cx="295.4" cy="457.6" r="1.55" stroke="#000" stroke-width="0.8" fill="none"/>
<circle cx="295.5" cy="455.9" r="1.55" stroke="#000" stroke-width="0.8" fill="none"/>
<circle cx="295.5" cy="454.2" r="1.55" stroke="#000" stroke-width="0.8" fill="none"/>
<circle cx="295.6" cy="452.5" r="1.55" stroke="#000" stroke-width="0.8" fill="none"/>
<circle cx="295.7" cy="450.9" r="1.55" stroke="#000" stroke-width="0.8" fill="none"/>
<circle cx="295.8" cy="449.2" r="1.55" stroke="#000" stroke-width="0.8" fill="none"/>
<circle cx="295.9" cy="447.5" r="1.55" stroke="#000" stroke-width="0.8" fill="none"/>
<circle cx="296.0" cy="445.8" r="1.55" stroke="#000" stroke-width="0.8" fill="none"/>
<circle cx="296.1" cy="444.1" r="1.55" stroke="#000" stroke-width="0.8" fill="none"/>
<circle cx="296.2" cy="442.4" r="1.55" stroke="#000" stroke-width="0.8" fill="none"/>
<circle cx="296.3" cy="440.7" r="1.55" stroke="#000" stroke-width="0.8" fill="none"/>
<circle cx="296.4" cy="439.0" r="1.55" stroke="#000" stroke-width="0.8" fill="none"/>
<circle cx="296.5" cy="437.3" r="1.55" stroke="#000" stroke-width="0.8" fill="none"/>
<circle cx="296.6" cy="435.7" r="1.55" stroke="#000" stroke-width="0.8" fill="none"/>
<circle cx="296.7" cy="434.0" r="1.55" stroke="#000" stroke-width="0.8" fill="none"/>
<circle cx="297.0" cy="432.3" r="1.55" stroke="#000" stroke-width="0.8" fill="none"/>
<circle cx="297.3" cy="430.6" r="1.55" stroke="#000" stroke-width="0.8" fill="none"/>
<circle cx="297.7" cy="429.0" r="1.55" stroke="#000" stroke-width="0.8" fill="none"/>
<circle cx="298.1" cy="427.3" r="1.55" stroke="#000" stroke-width="0.8" fill="none"/>
<circle cx="298.5" cy="425.7" r="1.55" stroke="#000" stroke-width="0.8" fill="none"/>
<circle cx="298.9" cy="424.1" r="1.55" stroke="#000" stroke-width="0.8" fill="none"/>
<circle cx="299.9" cy="422.7" r="1.55" stroke="#000" stroke-width="0.8" fill="none"/>
<circle cx="300.9" cy="421.4" r="1.55" stroke="#000" stroke-width="0.8" fill="none"/>
<circle cx="302.0" cy="420.0" r="1.55" stroke="#000" stroke-width="0.8" fill="none"/>
<circle cx="303.2" cy="418.9" r="1.55" stroke="#000" stroke-width="0.8" fill="none"/>
<circle cx="304.7" cy="418.1" r="1.55" stroke="#000" stroke-width="0.8" fill="none"/>
<circle cx="306.2" cy="417.3" r="1.55" stroke="#000" stroke-width="0.8" fill="none"/>
<circle cx="307.7" cy="416.6" r="1.55" stroke="#000" stroke-width="0.8" fill="none"/>
<circle cx="309.3" cy="416.1" r="1.55" stroke="#000" stroke-width="0.8" fill="none"/>
<circle cx="311.0" cy="415.8" r="1.55" stroke="#000" stroke-width="0.8" fill="none"/>
<circle cx="312.6" cy="415.4" r="1.55" stroke="#000" stroke-width="0.8" fill="none"/>
<circle cx="314.3" cy="415.1" r="1.55" stroke="#000" stroke-width="0.8" fill="none"/>
<circle cx="315.9" cy="414.8" r="1.55" stroke="#000" stroke-width="0.8" fill="none"/>
<circle cx="317.6" cy="414.5" r="1.55" stroke="#000" stroke-width="0.8" fill="none"/>
<circle cx="319.3" cy="414.3" r="1.55" stroke="#000" stroke-width="0.8" fill="none"/>
<circle cx="321.0" cy="414.1" r="1.55" stroke="#000" stroke-width="0.8" fill="none"/>
<circle cx="322.7" cy="414.0" r="1.55" stroke="#000" stroke-width="0.8" fill="none"/>
<circle cx="324.3" cy="413.8" r="1.55" stroke="#000" stroke-width="0.8" fill="none"/>
<circle cx="326.0" cy="413.6" r="1.55" stroke="#000" stroke-width="0.8" fill="none"/>
<circle cx="327.7" cy="413.4" r="1.55" stroke="#000" stroke-width="0.8" fill="none"/>
<circle cx="330.9" cy="412.6" r="1.9" stroke="#2a2a2a" stroke-width="0.75" fill="none"/>
<circle cx="335.3" cy="412.6" r="1.9" stroke="#2a2a2a" stroke-width="0.75" fill="none"/>
<circle cx="342.2" cy="412.6" r="1.9" stroke="#2a2a2a" stroke-width="0.75" fill="none"/>
<circle cx="343.4" cy="412.6" r="1.9" stroke="#2a2a2a" stroke-width="0.75" fill="none"/>
<circle cx="349.3" cy="412.6" r="1.9" stroke="#2a2a2a" stroke-width="0.75" fill="none"/>
<circle cx="354.8" cy="412.6" r="1.9" stroke="#2a2a2a" stroke-width="0.75" fill="none"/>
<circle cx="356.5" cy="412.6" r="1.9" stroke="#2a2a2a" stroke-width="0.75" fill="none"/>
<circle cx="358.0" cy="412.6" r="1.9" stroke="#2a2a2a" stroke-width="0.75" fill="none"/>
<circle cx="359.5" cy="412.6" r="1.9" stroke="#2a2a2a" stroke-width="0.75" fill="none"/>
<circle cx="361.0" cy="412.6" r="1.9" stroke="#2a2a2a" stroke-width="0.75" fill="none"/>
<circle cx="367.3" cy="412.6" r="1.9" stroke="#2a2a2a" stroke-width="0.75" fill="none"/>
<circle cx="374.3" cy="412.6" r="1.9" stroke="#2a2a2a" stroke-width="0.75" fill="none"/>
<circle cx="378.6" cy="412.6" r="1.9" stroke="#2a2a2a" stroke-width="0.75" fill="none"/>
<circle cx="386.8" cy="412.6" r="1.9" stroke="#2a2a2a" stroke-width="0.75" fill="none"/>
<circle cx="388.0" cy="412.6" r="1.9" stroke="#2a2a2a" stroke-width="0.75" fill="none"/>
<circle cx="391.0" cy="412.6" r="1.9" stroke="#2a2a2a" stroke-width="0.75" fill="none"/>
<circle cx="392.2" cy="412.6" r="1.9" stroke="#2a2a2a" stroke-width="0.75" fill="none"/>
<circle cx="418.0" cy="412.6" r="1.9" stroke="#2a2a2a" stroke-width="0.75" fill="none"/>
<circle cx="439.6" cy="412.6" r="1.9" stroke="#2a2a2a" stroke-width="0.75" fill="none"/>
<circle cx="464.8" cy="412.6" r="1.9" stroke="#2a2a2a" stroke-width="0.75" fill="none"/>
<path d="M295.4 526.3L296.6 516.0L297.1 500.0L297.3 465.0L298.6 433.0L300.2 424.5L302.2 420.0L304.5 416.6L307.5 414.2L311.0 413.0L316.0 412.7" stroke="#d42846" stroke-width="1.25" fill="none" />
<text x="667" y="388.3" font-size="12.2" text-anchor="middle" fill="#000000" font-weight="bold">P-P plot</text>
<rect x="566" y="408" width="200.8" height="122" fill="none" stroke="#2e2e2e" stroke-width=".8"/>
<path d="M573.6 530L573.6 536.2" stroke="#2e2e2e" stroke-width="0.8" fill="none"/>
<path d="M610.8000000000001 530L610.8000000000001 536.2" stroke="#2e2e2e" stroke-width="0.8" fill="none"/>
<path d="M648.0 530L648.0 536.2" stroke="#2e2e2e" stroke-width="0.8" fill="none"/>
<path d="M685.2 530L685.2 536.2" stroke="#2e2e2e" stroke-width="0.8" fill="none"/>
<path d="M722.4000000000001 530L722.4000000000001 536.2" stroke="#2e2e2e" stroke-width="0.8" fill="none"/>
<path d="M759.6 530L759.6 536.2" stroke="#2e2e2e" stroke-width="0.8" fill="none"/>
<text x="573.6" y="553" font-size="10.08" text-anchor="middle" fill="#343434">0.0</text>
<text x="610.8000000000001" y="553" font-size="10.08" text-anchor="middle" fill="#343434">0.2</text>
<text x="648.0" y="553" font-size="10.08" text-anchor="middle" fill="#343434">0.4</text>
<text x="685.2" y="553" font-size="10.08" text-anchor="middle" fill="#343434">0.6</text>
<text x="722.4000000000001" y="553" font-size="10.08" text-anchor="middle" fill="#343434">0.8</text>
<text x="759.6" y="553" font-size="10.08" text-anchor="middle" fill="#343434">1.0</text>
<text x="666" y="577.8" font-size="10.08" text-anchor="middle" fill="#343434">Theoretical probabilities</text>
<path d="M566 524.8L560.5 524.8" stroke="#2e2e2e" stroke-width="0.8" fill="none"/>
<path d="M566 480L560.5 480" stroke="#2e2e2e" stroke-width="0.8" fill="none"/>
<path d="M566 435.2L560.5 435.2" stroke="#2e2e2e" stroke-width="0.8" fill="none"/>
<path d="M566 524.8L560.5 524.8" stroke="#2e2e2e" stroke-width="0.8" fill="none"/>
<path d="M566 502.4L560.5 502.4" stroke="#2e2e2e" stroke-width="0.8" fill="none"/>
<path d="M566 479.99999999999994L560.5 479.99999999999994" stroke="#2e2e2e" stroke-width="0.8" fill="none"/>
<path d="M566 457.59999999999997L560.5 457.59999999999997" stroke="#2e2e2e" stroke-width="0.8" fill="none"/>
<path d="M566 435.19999999999993L560.5 435.19999999999993" stroke="#2e2e2e" stroke-width="0.8" fill="none"/>
<path d="M566 412.79999999999995L560.5 412.79999999999995" stroke="#2e2e2e" stroke-width="0.8" fill="none"/>
<text x="551.5" y="524.8" font-size="10.3" text-anchor="middle" fill="#343434" transform="rotate(-90 551.5 524.8)">0.0</text>
<text x="551.5" y="480" font-size="10.3" text-anchor="middle" fill="#343434" transform="rotate(-90 551.5 480)">0.4</text>
<text x="551.5" y="435.2" font-size="10.3" text-anchor="middle" fill="#343434" transform="rotate(-90 551.5 435.2)">0.8</text>
<text x="526.7" y="469.4" font-size="10.3" text-anchor="middle" fill="#343434" transform="rotate(-90 526.7 469.4)">Empirical probabilities</text>
<path d="M566 529.6L766.8 408.4" stroke="#333" stroke-width="0.6" fill="none"/>
<path d="M573.4 524.6L572.8 506.2L573.4 499.7L574.7 495.3L576.5 489.3L578.4 484.5L580.6 479.7L582.8 475.8L585.6 472.2L588.2 469.8L591.4 468.0L594.7 466.1L597.3 462.8L600.1 459.6L603.3 455.9L606.6 453.1L610.9 450.3L616.3 447.2L625.0 443.3L633.7 440.5L642.3 437.9L655.3 434.2L668.3 432.1L680.0 430.6L692.5 428.1L705.0 425.6L717.5 423.8L730.0 421.9L742.5 420.0L752.5 418.1L757.5 416.2L759.4 413.8L759.8 411.9" stroke="#0c0c0c" stroke-width="3.4" fill="none" stroke-linecap="round" stroke-linejoin="round"/>
<circle cx="573.4" cy="524.6" r="1.6" stroke="#000" stroke-width="0.8" fill="none"/>
<circle cx="573.3" cy="522.5" r="1.6" stroke="#000" stroke-width="0.8" fill="none"/>
<circle cx="573.3" cy="520.5" r="1.6" stroke="#000" stroke-width="0.8" fill="none"/>
<circle cx="573.2" cy="518.4" r="1.6" stroke="#000" stroke-width="0.8" fill="none"/>
<circle cx="573.1" cy="516.4" r="1.6" stroke="#000" stroke-width="0.8" fill="none"/>
<circle cx="573.1" cy="514.3" r="1.6" stroke="#000" stroke-width="0.8" fill="none"/>
<circle cx="573.0" cy="512.2" r="1.6" stroke="#000" stroke-width="0.8" fill="none"/>
<circle cx="572.9" cy="510.2" r="1.6" stroke="#000" stroke-width="0.8" fill="none"/>
<circle cx="572.9" cy="508.1" r="1.6" stroke="#000" stroke-width="0.8" fill="none"/>
<circle cx="572.8" cy="506.1" r="1.6" stroke="#000" stroke-width="0.8" fill="none"/>
<circle cx="573.0" cy="504.0" r="1.6" stroke="#000" stroke-width="0.8" fill="none"/>
<circle cx="573.2" cy="501.9" r="1.6" stroke="#000" stroke-width="0.8" fill="none"/>
<circle cx="573.4" cy="499.9" r="1.6" stroke="#000" stroke-width="0.8" fill="none"/>
<circle cx="573.9" cy="497.9" r="1.6" stroke="#000" stroke-width="0.8" fill="none"/>
<circle cx="574.5" cy="495.9" r="1.6" stroke="#000" stroke-width="0.8" fill="none"/>
<circle cx="575.1" cy="494.0" r="1.6" stroke="#000" stroke-width="0.8" fill="none"/>
<circle cx="575.7" cy="492.0" r="1.6" stroke="#000" stroke-width="0.8" fill="none"/>
<circle cx="576.3" cy="490.0" r="1.6" stroke="#000" stroke-width="0.8" fill="none"/>
<circle cx="577.0" cy="488.1" r="1.6" stroke="#000" stroke-width="0.8" fill="none"/>
<circle cx="577.7" cy="486.1" r="1.6" stroke="#000" stroke-width="0.8" fill="none"/>
<circle cx="578.5" cy="484.2" r="1.6" stroke="#000" stroke-width="0.8" fill="none"/>
<circle cx="579.4" cy="482.4" r="1.6" stroke="#000" stroke-width="0.8" fill="none"/>
<circle cx="580.2" cy="480.5" r="1.6" stroke="#000" stroke-width="0.8" fill="none"/>
<circle cx="581.2" cy="478.7" r="1.6" stroke="#000" stroke-width="0.8" fill="none"/>
<circle cx="582.2" cy="476.9" r="1.6" stroke="#000" stroke-width="0.8" fill="none"/>
<circle cx="583.3" cy="475.1" r="1.6" stroke="#000" stroke-width="0.8" fill="none"/>
<circle cx="584.6" cy="473.5" r="1.6" stroke="#000" stroke-width="0.8" fill="none"/>
<circle cx="585.9" cy="471.9" r="1.6" stroke="#000" stroke-width="0.8" fill="none"/>
<circle cx="587.4" cy="470.5" r="1.6" stroke="#000" stroke-width="0.8" fill="none"/>
<circle cx="589.1" cy="469.3" r="1.6" stroke="#000" stroke-width="0.8" fill="none"/>
<circle cx="590.9" cy="468.3" r="1.6" stroke="#000" stroke-width="0.8" fill="none"/>
<circle cx="592.7" cy="467.3" r="1.6" stroke="#000" stroke-width="0.8" fill="none"/>
<circle cx="594.4" cy="466.2" r="1.6" stroke="#000" stroke-width="0.8" fill="none"/>
<circle cx="595.8" cy="464.7" r="1.6" stroke="#000" stroke-width="0.8" fill="none"/>
<circle cx="597.1" cy="463.1" r="1.6" stroke="#000" stroke-width="0.8" fill="none"/>
<circle cx="598.4" cy="461.5" r="1.6" stroke="#000" stroke-width="0.8" fill="none"/>
<circle cx="599.8" cy="460.0" r="1.6" stroke="#000" stroke-width="0.8" fill="none"/>
<circle cx="601.1" cy="458.4" r="1.6" stroke="#000" stroke-width="0.8" fill="none"/>
<circle cx="602.5" cy="456.9" r="1.6" stroke="#000" stroke-width="0.8" fill="none"/>
<circle cx="603.9" cy="455.4" r="1.6" stroke="#000" stroke-width="0.8" fill="none"/>
<circle cx="605.5" cy="454.1" r="1.6" stroke="#000" stroke-width="0.8" fill="none"/>
<circle cx="607.1" cy="452.8" r="1.6" stroke="#000" stroke-width="0.8" fill="none"/>
<circle cx="608.8" cy="451.7" r="1.6" stroke="#000" stroke-width="0.8" fill="none"/>
<circle cx="610.5" cy="450.5" r="1.6" stroke="#000" stroke-width="0.8" fill="none"/>
<circle cx="612.3" cy="449.5" r="1.6" stroke="#000" stroke-width="0.8" fill="none"/>
<circle cx="614.1" cy="448.5" r="1.6" stroke="#000" stroke-width="0.8" fill="none"/>
<circle cx="615.9" cy="447.4" r="1.6" stroke="#000" stroke-width="0.8" fill="none"/>
<circle cx="617.8" cy="446.5" r="1.6" stroke="#000" stroke-width="0.8" fill="none"/>
<circle cx="619.6" cy="445.7" r="1.6" stroke="#000" stroke-width="0.8" fill="none"/>
<circle cx="621.5" cy="444.9" r="1.6" stroke="#000" stroke-width="0.8" fill="none"/>
<circle cx="623.4" cy="444.0" r="1.6" stroke="#000" stroke-width="0.8" fill="none"/>
<circle cx="625.3" cy="443.2" r="1.6" stroke="#000" stroke-width="0.8" fill="none"/>
<circle cx="627.3" cy="442.6" r="1.6" stroke="#000" stroke-width="0.8" fill="none"/>
<circle cx="629.2" cy="441.9" r="1.6" stroke="#000" stroke-width="0.8" fill="none"/>
<circle cx="631.2" cy="441.3" r="1.6" stroke="#000" stroke-width="0.8" fill="none"/>
<circle cx="633.2" cy="440.7" r="1.6" stroke="#000" stroke-width="0.8" fill="none"/>
<circle cx="635.1" cy="440.1" r="1.6" stroke="#000" stroke-width="0.8" fill="none"/>
<circle cx="637.1" cy="439.5" r="1.6" stroke="#000" stroke-width="0.8" fill="none"/>
<circle cx="639.1" cy="438.9" r="1.6" stroke="#000" stroke-width="0.8" fill="none"/>
<circle cx="641.0" cy="438.3" r="1.6" stroke="#000" stroke-width="0.8" fill="none"/>
<circle cx="643.0" cy="437.7" r="1.6" stroke="#000" stroke-width="0.8" fill="none"/>
<circle cx="645.0" cy="437.1" r="1.6" stroke="#000" stroke-width="0.8" fill="none"/>
<circle cx="647.0" cy="436.6" r="1.6" stroke="#000" stroke-width="0.8" fill="none"/>
<circle cx="649.0" cy="436.0" r="1.6" stroke="#000" stroke-width="0.8" fill="none"/>
<circle cx="651.0" cy="435.4" r="1.6" stroke="#000" stroke-width="0.8" fill="none"/>
<circle cx="652.9" cy="434.9" r="1.6" stroke="#000" stroke-width="0.8" fill="none"/>
<circle cx="654.9" cy="434.3" r="1.6" stroke="#000" stroke-width="0.8" fill="none"/>
<circle cx="657.0" cy="433.9" r="1.6" stroke="#000" stroke-width="0.8" fill="none"/>
<circle cx="659.0" cy="433.6" r="1.6" stroke="#000" stroke-width="0.8" fill="none"/>
<circle cx="661.0" cy="433.3" r="1.6" stroke="#000" stroke-width="0.8" fill="none"/>
<circle cx="663.1" cy="432.9" r="1.6" stroke="#000" stroke-width="0.8" fill="none"/>
<circle cx="665.1" cy="432.6" r="1.6" stroke="#000" stroke-width="0.8" fill="none"/>
<circle cx="667.1" cy="432.3" r="1.6" stroke="#000" stroke-width="0.8" fill="none"/>
<circle cx="669.2" cy="432.0" r="1.6" stroke="#000" stroke-width="0.8" fill="none"/>
<circle cx="671.2" cy="431.7" r="1.6" stroke="#000" stroke-width="0.8" fill="none"/>
<circle cx="673.3" cy="431.5" r="1.6" stroke="#000" stroke-width="0.8" fill="none"/>
<circle cx="675.3" cy="431.2" r="1.6" stroke="#000" stroke-width="0.8" fill="none"/>
<circle cx="677.4" cy="430.9" r="1.6" stroke="#000" stroke-width="0.8" fill="none"/>
<circle cx="679.4" cy="430.7" r="1.6" stroke="#000" stroke-width="0.8" fill="none"/>
<circle cx="681.4" cy="430.3" r="1.6" stroke="#000" stroke-width="0.8" fill="none"/>
<circle cx="683.4" cy="429.9" r="1.6" stroke="#000" stroke-width="0.8" fill="none"/>
<circle cx="685.5" cy="429.5" r="1.6" stroke="#000" stroke-width="0.8" fill="none"/>
<circle cx="687.5" cy="429.1" r="1.6" stroke="#000" stroke-width="0.8" fill="none"/>
<circle cx="689.5" cy="428.7" r="1.6" stroke="#000" stroke-width="0.8" fill="none"/>
<circle cx="691.5" cy="428.3" r="1.6" stroke="#000" stroke-width="0.8" fill="none"/>
<circle cx="693.6" cy="427.9" r="1.6" stroke="#000" stroke-width="0.8" fill="none"/>
<circle cx="695.6" cy="427.5" r="1.6" stroke="#000" stroke-width="0.8" fill="none"/>
<circle cx="697.6" cy="427.1" r="1.6" stroke="#000" stroke-width="0.8" fill="none"/>
<circle cx="699.6" cy="426.7" r="1.6" stroke="#000" stroke-width="0.8" fill="none"/>
<circle cx="701.6" cy="426.3" r="1.6" stroke="#000" stroke-width="0.8" fill="none"/>
<circle cx="703.7" cy="425.9" r="1.6" stroke="#000" stroke-width="0.8" fill="none"/>
<circle cx="705.7" cy="425.5" r="1.6" stroke="#000" stroke-width="0.8" fill="none"/>
<circle cx="707.7" cy="425.2" r="1.6" stroke="#000" stroke-width="0.8" fill="none"/>
<circle cx="709.8" cy="424.9" r="1.6" stroke="#000" stroke-width="0.8" fill="none"/>
<circle cx="711.8" cy="424.6" r="1.6" stroke="#000" stroke-width="0.8" fill="none"/>
<circle cx="713.9" cy="424.3" r="1.6" stroke="#000" stroke-width="0.8" fill="none"/>
<circle cx="715.9" cy="424.0" r="1.6" stroke="#000" stroke-width="0.8" fill="none"/>
<circle cx="717.9" cy="423.7" r="1.6" stroke="#000" stroke-width="0.8" fill="none"/>
<circle cx="720.0" cy="423.4" r="1.6" stroke="#000" stroke-width="0.8" fill="none"/>
<circle cx="722.0" cy="423.1" r="1.6" stroke="#000" stroke-width="0.8" fill="none"/>
<circle cx="724.1" cy="422.8" r="1.6" stroke="#000" stroke-width="0.8" fill="none"/>
<circle cx="726.1" cy="422.5" r="1.6" stroke="#000" stroke-width="0.8" fill="none"/>
<circle cx="728.1" cy="422.2" r="1.6" stroke="#000" stroke-width="0.8" fill="none"/>
<circle cx="730.2" cy="421.9" r="1.6" stroke="#000" stroke-width="0.8" fill="none"/>
<circle cx="732.2" cy="421.6" r="1.6" stroke="#000" stroke-width="0.8" fill="none"/>
<circle cx="734.3" cy="421.3" r="1.6" stroke="#000" stroke-width="0.8" fill="none"/>
<circle cx="736.3" cy="420.9" r="1.6" stroke="#000" stroke-width="0.8" fill="none"/>
<circle cx="738.3" cy="420.6" r="1.6" stroke="#000" stroke-width="0.8" fill="none"/>
<circle cx="740.4" cy="420.3" r="1.6" stroke="#000" stroke-width="0.8" fill="none"/>
<circle cx="742.4" cy="420.0" r="1.6" stroke="#000" stroke-width="0.8" fill="none"/>
<circle cx="744.4" cy="419.6" r="1.6" stroke="#000" stroke-width="0.8" fill="none"/>
<circle cx="746.5" cy="419.2" r="1.6" stroke="#000" stroke-width="0.8" fill="none"/>
<circle cx="748.5" cy="418.9" r="1.6" stroke="#000" stroke-width="0.8" fill="none"/>
<circle cx="750.5" cy="418.5" r="1.6" stroke="#000" stroke-width="0.8" fill="none"/>
<circle cx="752.5" cy="418.1" r="1.6" stroke="#000" stroke-width="0.8" fill="none"/>
<circle cx="754.5" cy="417.4" r="1.6" stroke="#000" stroke-width="0.8" fill="none"/>
<circle cx="756.4" cy="416.7" r="1.6" stroke="#000" stroke-width="0.8" fill="none"/>
<circle cx="758.0" cy="415.5" r="1.6" stroke="#000" stroke-width="0.8" fill="none"/>
<circle cx="759.3" cy="413.9" r="1.6" stroke="#000" stroke-width="0.8" fill="none"/>
<circle cx="759.8" cy="411.9" r="1.6" stroke="#000" stroke-width="0.8" fill="none"/></svg>
</div></body></html>
